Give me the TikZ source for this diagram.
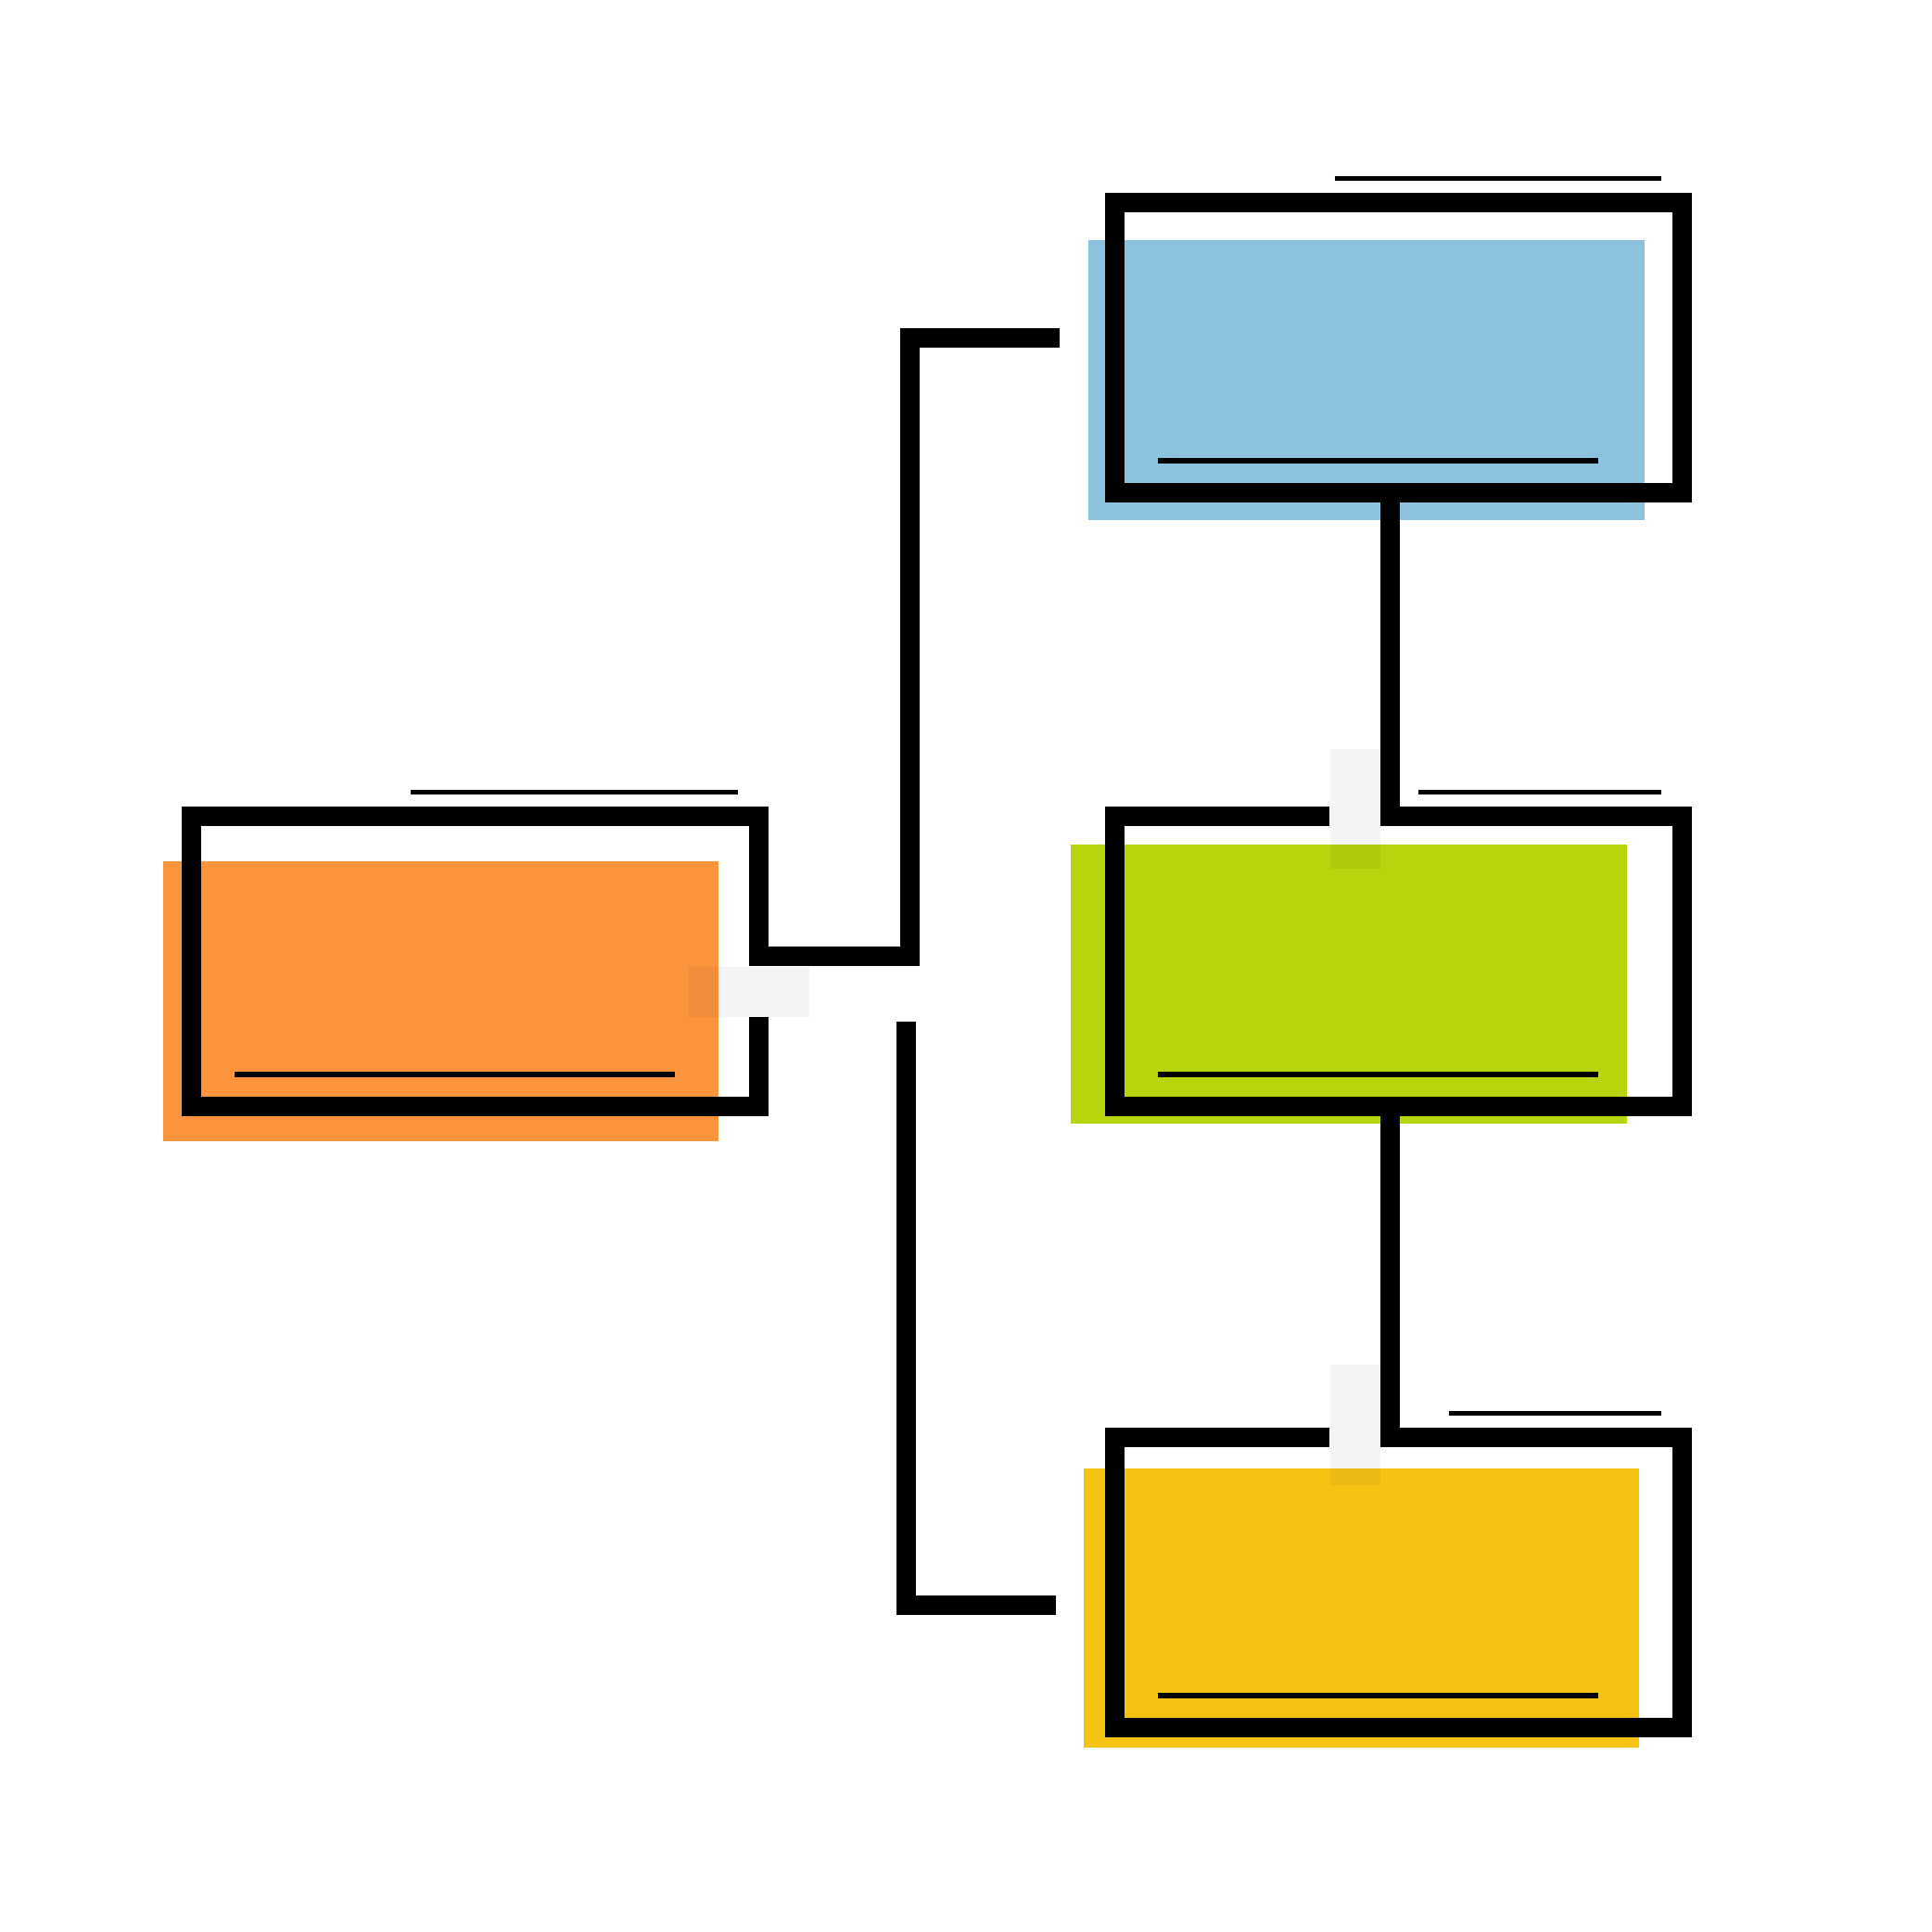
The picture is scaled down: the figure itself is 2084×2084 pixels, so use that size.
\documentclass[tikz,border=0pt]{standalone}
\usepackage{tikz}
\usepackage{xcolor}
\usetikzlibrary{positioning, calc}
\definecolor{skyfill}{HTML}{8DC2DE}
\definecolor{limefill}{HTML}{B7D40C}
\definecolor{sunfill}{HTML}{F6C314}
\definecolor{tanfill}{HTML}{FC943E}
\tikzstyle{frame} = [rectangle, minimum width=6.11cm, minimum height=3.12cm, inner sep=0pt, outer sep=0pt]
\tikzstyle{backfill} = [rectangle, minimum width=5.99cm, minimum height=3.01cm, inner sep=0pt, outer sep=0pt, draw=none]
\tikzstyle{edge} = [line width=0.21cm, draw=black]
\tikzstyle{rule} = [line width=0.055cm, draw=black]
\tikzstyle{shade} = [fill=black, fill opacity=0.045]
\begin{document}
\begin{tikzpicture}[x=0.01cm, y=-0.01cm]
    \useasboundingbox (0,0) rectangle (2084,2084);
    % colour blocks
    \node (tanback) [backfill, fill=tanfill] at (475.5,1080) {};
    \node (skyback) [backfill, fill=skyfill] at (1474,410) {};
    \node (limeback) [backfill, fill=limefill] at (1455,1061.5) {};
    \node (sunback) [backfill, fill=sunfill] at (1468.5,1734.5) {};
    % frames
    \node (tanbox) [frame] at (512.5,1037) {};
    \node (skybox) [frame] at (1508.5,375) {};
    \node (limebox) [frame] at (1508.5,1037) {};
    \node (sunbox) [frame] at (1508.5,1707) {};
    \coordinate (tangap) at ($(tanbox.north east)+(0,216)$);
    \coordinate (tanjoin) at ($(tanbox.north east)+(0,151)$);
    \coordinate (tanbend) at (981,364);
    \coordinate (skylink) at (1143,364);
    \coordinate (limejoin) at ($(limebox.north west)+(297,0)$);
    \coordinate (limegap) at ($(limebox.north west)+(231,0)$);
    \coordinate (sunjoin) at ($(sunbox.north west)+(297,0)$);
    \coordinate (sungap) at ($(sunbox.north west)+(231,0)$);
    \coordinate (lowstart) at (977,1102);
    \coordinate (sunlink) at (1139,1731);

    \draw [edge] (skybox.north west) rectangle (skybox.south east);
    \draw [edge] (tangap) |- (tanbox.south west) |- (tanbox.north east) -- (tanjoin) -| (tanbend) -- (skylink);
    \draw [edge] (skybox.south -| limejoin) -- (limejoin) -- (limebox.north east) -- (limebox.south east) -- (limebox.south west) -- (limebox.north west) -- (limegap);
    \draw [edge] (limebox.south -| sunjoin) -- (sunjoin) -- (sunbox.north east) -- (sunbox.south east) -- (sunbox.south west) -- (sunbox.north west) -- (sungap);
    \draw [edge] (lowstart) |- (sunlink);

    % rules
    \draw [rule] ($(tanbox.north west)+(236,-26.5)$) -- ($(tanbox.north east)+(-22,-26.5)$);
    \draw [rule] ($(skybox.north west)+(237,-26.5)$) -- ($(skybox.north east)+(-22,-26.5)$);
    \draw [rule] ($(limebox.north west)+(327,-26.5)$) -- ($(limebox.north east)+(-22,-26.5)$);
    \draw [rule] ($(sunbox.north west)+(360,-26.5)$) -- ($(sunbox.north east)+(-22,-26.5)$);
    \foreach \b in {tanbox, skybox, limebox, sunbox}
        \draw [rule] ($(\b.north west)+(46,278)$) -- +(475,0);

    % pale patches
    \fill [shade] (743,1043) rectangle (873,1097);
    \fill [shade] (1435,808) rectangle (1489,937);
    \fill [shade] (1435,1472) rectangle (1489,1602);
\end{tikzpicture}
\end{document}
